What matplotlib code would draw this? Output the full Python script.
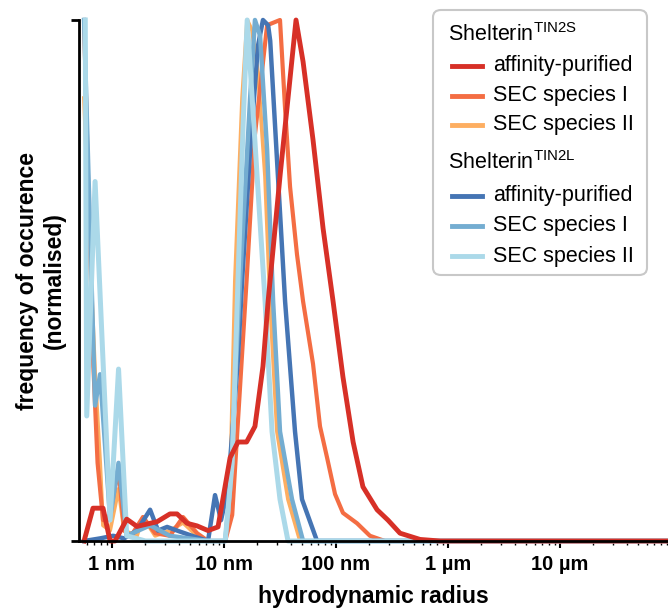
import numpy as np
import matplotlib
matplotlib.use("Agg")
import matplotlib.pyplot as plt
from matplotlib.lines import Line2D
from matplotlib.patches import FancyBboxPatch
from matplotlib.ticker import FixedLocator, LogLocator, NullFormatter

plt.rcParams['font.family'] = ['Liberation Sans', 'DejaVu Sans']
plt.rcParams['mathtext.fontset'] = 'custom'
plt.rcParams['mathtext.rm'] = 'Liberation Sans'

# -------------------------------------------------- data -------------------------------------------------
# hydrodynamic radius in nm, frequency normalised to peak

r_tin2s_aff = [0.566, 0.68, 0.836, 0.966, 1.07, 1.36, 1.68, 2.11, 2.54, 3.31, 3.83, 4.70, 5.78, 7.24, 8.89,
               11.4, 13.4, 16.0, 19.0, 22.4, 24.9, 31.8, 37.5, 44.2, 51.1, 62.7, 77.1, 94.7, 116, 143, 175,
               234, 293, 375, 566, 855, 90000]
f_tin2s_aff = [0.0, 0.063, 0.063, 0.0, 0.0, 0.042, 0.028, 0.033, 0.037, 0.052, 0.052, 0.034, 0.029, 0.02, 0.027,
               0.16, 0.19, 0.19, 0.22, 0.335, 0.46, 0.70, 0.85, 1.0, 0.92, 0.77, 0.60, 0.46, 0.315, 0.19, 0.104,
               0.06, 0.04, 0.015, 0.003, 0.0, 0.0]

r_tin2s_sec1 = [0.566, 0.627, 0.681, 0.747, 0.836, 0.966, 1.15, 1.29, 1.49, 1.90, 2.44, 3.31, 4.33, 5.78, 7.24,
                10.3, 11.9, 16.0, 19.0, 24.4, 31.8, 35.3, 39.1, 45.1, 51.1, 62.7, 72.4, 83.7, 98.6, 116, 155,
                202, 275, 90000]
f_tin2s_sec1 = [1.0, 0.62, 0.35, 0.15, 0.04, 0.05, 0.14, 0.02, 0.01, 0.046, 0.015, 0.01, 0.046, 0.015, 0.0,
                0.0, 0.05, 0.5, 0.78, 0.99, 1.0, 0.83, 0.68, 0.55, 0.46, 0.34, 0.22, 0.16, 0.09, 0.054, 0.034,
                0.01, 0.0, 0.0]

r_tin2s_sec2 = [0.566, 0.627, 0.710, 0.787, 0.836, 0.966, 1.15, 1.29, 1.68, 1.90, 2.44, 3.31, 4.33, 5.78, 7.24,
                10.3, 11.4, 12.6, 14.6, 16.2, 17.9, 20.2, 23.4, 25.9, 29.9, 37.5, 48.0, 90000]
f_tin2s_sec2 = [0.85, 0.6, 0.32, 0.15, 0.03, 0.02, 0.1, 0.02, 0.01, 0.046, 0.01, 0.02, 0.035, 0.01, 0.0,
                0.0, 0.1, 0.5, 0.85, 1.0, 0.98, 0.9, 0.7, 0.46, 0.21, 0.08, 0.0, 0.0]

r_tin2l_aff = [0.566, 0.787, 1.03, 1.29, 1.68, 2.2, 2.59, 3.12, 4.07, 5.54, 7.24, 8.36, 9.46, 10.9, 13.4, 14.6,
               17.2, 20.2, 22.4, 24.9, 26.0, 35.3, 43.3, 50.0, 68.1, 90000]
f_tin2l_aff = [0.0, 0.005, 0.01, 0.005, 0.02, 0.06, 0.02, 0.027, 0.018, 0.008, 0.0, 0.088, 0.04, 0.1, 0.35, 0.5,
               0.75, 0.95, 1.0, 0.99, 0.96, 0.46, 0.21, 0.08, 0.0, 0.0]

r_tin2l_sec1 = [0.566, 0.710, 0.787, 0.966, 1.15, 1.36, 2.2, 3.3, 7.24, 10.3, 11.4, 14.0, 17.2, 19.0, 21.1,
                24.4, 27.6, 31.8, 40.7, 51.1, 90000]
f_tin2l_sec1 = [1.0, 0.26, 0.32, 0.044, 0.15, 0.01, 0.03, 0.01, 0.0, 0.0, 0.1, 0.5, 0.85, 1.0, 0.97,
                0.75, 0.46, 0.21, 0.08, 0.0, 0.0]

r_tin2l_sec2 = [0.58, 0.598, 0.710, 0.966, 1.15, 1.36, 2.0, 10.3, 11.9, 13.4, 14.9, 16.2, 23.4, 27.0, 31.8,
                37.5, 90000]
f_tin2l_sec2 = [1.0, 0.24, 0.69, 0.04, 0.33, 0.01, 0.0, 0.0, 0.15, 0.5, 0.8, 1.0, 0.46, 0.21, 0.08,
                0.0, 0.0]

x_ticks = [1, 10, 100, 1000, 10000]
x_tick_labels = ["1 nm", "10 nm", "100 nm", "1 µm", "10 µm"]

group_titles = ["Shelterin$^{\\mathregular{TIN2S}}$", "Shelterin$^{\\mathregular{TIN2L}}$"]
entry_labels = ["affinity-purified", "SEC species I", "SEC species II"]
colors_s = ['#d73027', '#f46d43', '#fdae61']
colors_l = ['#4575b4', '#74add1', '#abd9e9']

# -------------------------------------------------- plot -------------------------------------------------

fig = plt.figure(figsize=(6.68, 6.12), dpi=100)
ax = fig.add_axes([79/668, 71/612, 1 - 79/668, 521/612])

series = [
    (r_tin2s_sec2, f_tin2s_sec2, colors_s[2], 2.8),
    (r_tin2s_sec1, f_tin2s_sec1, colors_s[1], 3.0),
    (r_tin2l_aff, f_tin2l_aff, colors_l[0], 3.2),
    (r_tin2l_sec1, f_tin2l_sec1, colors_l[1], 3.2),
    (r_tin2l_sec2, f_tin2l_sec2, colors_l[2], 3.6),
    (r_tin2s_aff, f_tin2s_aff, colors_s[0], 3.5),
]
for r, f, c, lw in series:
    ax.plot(r, f, color=c, lw=lw, clip_on=False, solid_joinstyle='round')

ax.set_xscale('log')
ax.set_xlim(0.51, 92700)
ax.set_ylim(0, 1)

ax.spines['top'].set_visible(False)
ax.spines['right'].set_visible(False)
ax.spines['left'].set_linewidth(2)
ax.spines['bottom'].set_linewidth(2)

ax.xaxis.set_major_locator(FixedLocator(x_ticks))
ax.set_xticklabels(x_tick_labels, fontsize=14.5, fontweight='bold')
ax.xaxis.set_minor_locator(LogLocator(base=10, subs=np.arange(2, 10)))
ax.xaxis.set_minor_formatter(NullFormatter())
ax.tick_params(axis='x', which='major', length=5, width=1.5, pad=5)
ax.tick_params(axis='x', which='minor', length=3, width=1)

ax.set_yticks([0, 1])
ax.set_yticklabels([])
ax.tick_params(axis='y', length=6, width=2)

ax.set_xlabel("hydrodynamic radius", fontsize=16.5, fontweight='bold', labelpad=8)
ax.set_ylabel("frequency of occurence\n(normalised)", fontsize=16.5, fontweight='bold', labelpad=0)

# legend drawn by hand, two groups with headers
box = FancyBboxPatch((433/668, 1 - 275/612), 214/668, 265/612, transform=fig.transFigure,
                     boxstyle="round,pad=0,rounding_size=0.012", fc='white', ec='#c8c8c8', lw=1.5,
                     zorder=5)
fig.patches.append(box)

rows_y = [35, 66, 96, 125, 163, 196, 226, 256]
groups = [(group_titles[0], colors_s), (group_titles[1], colors_l)]
i = 0
for title, cols in groups:
    fig.text(448/668, 1 - rows_y[i]/612, title, fontsize=15.5, va='center', ha='left', zorder=6)
    i += 1
    for label, c in zip(entry_labels, cols):
        y = 1 - rows_y[i]/612
        fig.lines.append(Line2D([452/668, 482/668], [y, y], transform=fig.transFigure,
                                color=c, lw=3.5, zorder=6))
        fig.text(493/668, y, label, fontsize=15.5, va='center', ha='left', zorder=6)
        i += 1

fig.savefig("out.png", dpi=100)
